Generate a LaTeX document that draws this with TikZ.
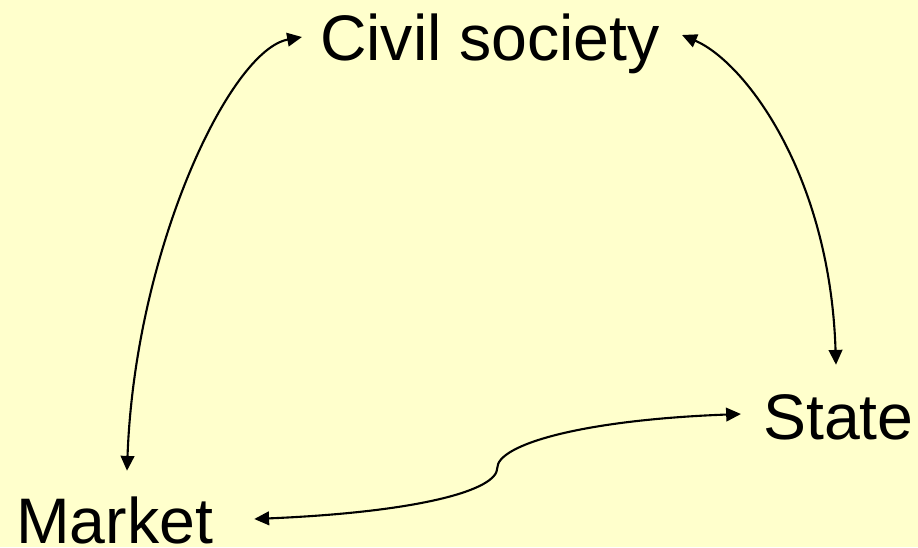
\documentclass[tikz,border=0pt]{standalone}
\usepackage{fontspec}
\setmainfont{Liberation Sans}
\usepackage{tikz}
\usetikzlibrary{arrows.meta}
\definecolor{PaleYellow}{HTML}{FFFFCC}

\begin{document}
\begin{tikzpicture}[node distance=8cm, >={Triangle[length=0.37cm,width=0.34cm]},
  every node/.style={font=\fontsize{45.8}{55}\selectfont}]
  \tikzstyle{sector}=[inner sep=0pt, text height=1.2cm, text depth=0pt]
  \tikzstyle{link}=[<->, line width=1.5pt, color=black]
  \useasboundingbox[fill=PaleYellow] (-12.25,-12.775) rectangle (10.7,0.9);
  \node[sector] (civil) {Civil society};
  \node[sector, right of=civil, xshift=0.71cm, yshift=-9.475cm] (state) {State};
  \node[sector, left of=state, xshift=-10.095cm, yshift=-2.6cm] (market) {Market};
  \draw[link] ([xshift=0.31cm, yshift=0.6cm]market.north) .. controls +(0.2,5.525) and +(-1.8,-0.325) .. ([xshift=-0.445cm, yshift=-0.025cm]civil.west);
  \draw[link] ([xshift=0.545cm, yshift=0.025cm]civil.east) .. controls +(1.575,-0.675) and +(-0.15,4.75) .. ([xshift=-0.06cm, yshift=0.65cm]state.north);
  \draw[link] ([xshift=1.025cm]market.east) .. controls +(4.15,0.175) and +(0,-0.55) .. ([xshift=7.1cm, yshift=1.275cm]market.east)
    .. controls +(0,0.575) and +(-4.025,-0.15) .. ([xshift=-0.55cm, yshift=0.025cm]state.west);
\end{tikzpicture}
\end{document}
